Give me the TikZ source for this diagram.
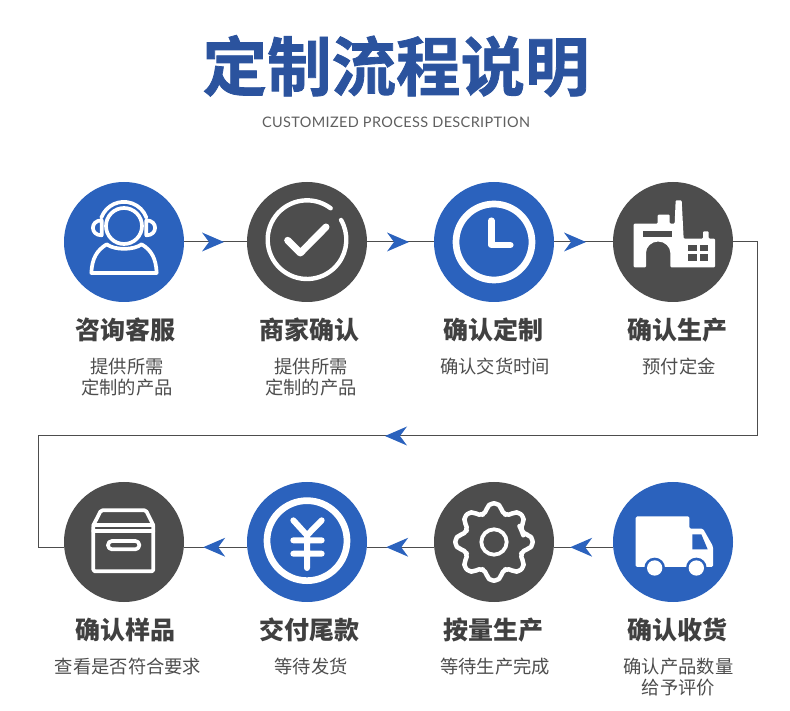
\documentclass[tikz,border=0pt]{standalone}
\usepackage{fontspec}
\setmainfont{Noto Sans CJK SC}
\newfontfamily\titlefont[FakeBold=1.2]{Noto Sans CJK SC Bold}
\newfontfamily\latinfont[LetterSpace=2.5]{Lato}
\usepackage{xcolor}
\usetikzlibrary{positioning, arrows.meta, decorations.markings, backgrounds}
\definecolor{accBlue}{HTML}{2B62BD}
\definecolor{accDark}{HTML}{4D4D4D}
\definecolor{titleBlue}{HTML}{2B539E}
\definecolor{headText}{HTML}{404040}
\definecolor{bodyText}{HTML}{4D4D4D}
\definecolor{mutedText}{HTML}{5F5F5F}

\begin{document}
\begin{tikzpicture}[
      x=1pt, y=1pt,
      blueball/.style={circle, fill=accBlue, minimum size=120pt, inner sep=0pt, outer sep=0pt},
      darkball/.style={circle, fill=accDark, minimum size=120pt, inner sep=0pt, outer sep=0pt},
      steplabel/.style={font=\fontsize{25}{28}\selectfont\bfseries, text=headText, inner sep=0pt, outer sep=0pt},
      stepnote/.style={font=\fontsize{18.3}{21}\selectfont, text=bodyText, align=center, inner sep=0pt, outer sep=0pt},
      conn/.style={draw=accDark, line width=1pt},
      arrat/.style={postaction={decorate}, decoration={markings, mark=at position #1 with
          {\arrow{Stealth[length=22pt, width=19pt, inset=7pt, accBlue, fill=accBlue, line width=0pt]}}}},
      iconat/.style={shift={(#1)}, x=.3333pt, y=-.3333pt},
      iconline/.style={draw=white, line width=3.7pt, line cap=round, line join=round},
    ]
      \useasboundingbox (0,0) rectangle (790,710);

      % heading
      \node[font=\titlefont\fontsize{64.5}{70}\selectfont, text=titleBlue, inner sep=0pt, outer sep=0pt] (title) at (396,644) {定制流程说明};
      \node[font=\latinfont\fontsize{14.5}{16}\selectfont, text=mutedText, inner sep=0pt, below=20pt of title] (subtitle) {CUSTOMIZED PROCESS DESCRIPTION};

      % row 1
      \node[blueball] (service) at (124,468) {};
      \node[darkball, right=63pt of service] (merchant) {};
      \node[blueball, right=67pt of merchant] (clock) {};
      \node[darkball, right=59pt of clock] (factory) {};

      % row 2
      \node[darkball, below=180pt of service] (box) {};
      \node[blueball, right=63pt of box] (yen) {};
      \node[darkball, right=67pt of yen] (gear) {};
      \node[blueball, right=59pt of gear] (truck) {};

      % labels, row 1
      \node[steplabel, below=16pt of service, xshift=1pt] (l1) {咨询客服};
      \node[stepnote, below=16pt of l1, xshift=2pt] (n1) {提供所需\\定制的产品};
      \node[steplabel, below=16pt of merchant, xshift=2pt] (l2) {商家确认};
      \node[stepnote, below=16pt of l2, xshift=2pt] (n2) {提供所需\\定制的产品};
      \node[steplabel, below=16pt of clock, xshift=-.5pt] (l3) {确认定制};
      \node[stepnote, below=16pt of l3, xshift=1.5pt] (n3) {确认交货时间};
      \node[steplabel, below=16pt of factory, xshift=4pt] (l4) {确认生产};
      \node[stepnote, below=16pt of l4, xshift=2pt] (n4) {预付定金};

      % labels, row 2
      \node[steplabel, below=16pt of box, xshift=1pt] (l5) {确认样品};
      \node[stepnote, below=16pt of l5, xshift=3pt] (n5) {查看是否符合要求};
      \node[steplabel, below=16pt of yen, xshift=2pt] (l6) {交付尾款};
      \node[stepnote, below=16pt of l6, xshift=2pt] (n6) {等待发货};
      \node[steplabel, below=16pt of gear, xshift=-1pt] (l7) {按量生产};
      \node[stepnote, below=16pt of l7, xshift=2pt] (n7) {等待生产完成};
      \node[steplabel, below=16pt of truck, xshift=4pt] (l8) {确认收货};
      \node[stepnote, below=16pt of l8, xshift=1.5pt] (n8) {确认产品数量\\给予评价};

      % turning points of the long connector
      \coordinate[right=24pt of factory.east] (turnA);
      \coordinate[below=194pt of turnA] (turnB);
      \coordinate[left=719pt of turnB] (turnC);
      \coordinate (turnD) at (turnC |- box.185);

      % connectors
      \draw[conn, arrat=40pt] (service) -- (merchant);
      \draw[conn, arrat=42pt] (merchant) -- (clock);
      \draw[conn, arrat=32pt] (clock) -- (factory);
      \draw[conn, arrat=590pt] (factory.east) -- (turnA) -- (turnB) -- (turnC) -- (turnD) -- (box.185);
      \draw[conn, arrat=43pt] (truck.185) -- (gear.355);
      \draw[conn, arrat=48pt] (gear.185) -- (yen.355);
      \draw[conn, arrat=44pt] (yen.185) -- (box.355);

      % headset
      \begin{scope}[iconat=service, shift={(-222,-215)}, iconline]
        \draw (222,167) circle[radius=54];
        \draw (154,142) arc[start angle=200, end angle=340, radius=72];
        \draw (155,150) .. controls (120,150) and (120,195) .. (155,195) -- cycle;
        \draw (289,150) .. controls (324,150) and (324,195) .. (289,195) -- cycle;
        \draw (124,308) -- (320,308) .. controls (318,265) and (305,240) .. (275,222)
              .. controls (250,240) and (195,240) .. (170,222)
              .. controls (140,240) and (126,265) .. (124,308) -- cycle;
      \end{scope}

      % check in a ring
      \begin{scope}[iconat=merchant, shift={(-770,-215)}, iconline]
        \draw[line width=4.4pt] (770,208) ++(-53:118) arc[start angle=-53, end angle=-390, radius=118];
        \draw[line width=7pt] (712,210) -- (750,248) -- (827,170);
      \end{scope}

      % clock
      \begin{scope}[iconat=clock, shift={(-220,-215)}, iconline]
        \draw[line width=6.7pt] (220,215) circle[radius=114];
        \draw[line width=6.5pt] (212,151) -- (212,224) -- (269,224);
      \end{scope}

      % factory
      \begin{scope}[iconat=factory, shift={(-758,-215)}]
        \fill[white, rounded corners=1pt] (640,291) -- (640,160) -- (712,160) -- (712,133) -- (748,133) -- (748,160)
              -- (763,160) -- (766,90) -- (784,90) -- (790,205) -- (848,205) -- (848,183) -- (865,183) -- (865,205)
              -- (884,205) -- (884,291) -- (750,291) -- (750,250) arc[start angle=0, end angle=-180, radius=36.5]
              -- (677,291) -- cycle;
        \fill[accDark] (668,183) rectangle (755,200);
        \foreach \wx in {803,838}
          \foreach \wy in {223,252}
            \fill[accDark] (\wx,\wy) rectangle ++(26,19);
      \end{scope}

      % storage box
      \begin{scope}[iconat=box, shift={(-282,-215)}, iconline]
        \draw[rounded corners=1.5pt] (190,165) -- (213,120) -- (348,120) -- (370,165) -- (370,303) -- (190,303) -- cycle;
        \draw (190,165) -- (370,165);
        \draw (190,183) -- (370,183);
        \draw[rounded corners=4pt] (234,212) rectangle (328,237);
      \end{scope}

      % yen coin
      \begin{scope}[iconat=yen, shift={(-831,-215)}, iconline]
        \draw[line width=6.7pt] (831,211) circle[radius=120];
        \draw[line width=6pt] (790,150) -- (831,195) -- (875,150) (831,195) -- (831,293)
              (790,210) -- (875,210) (790,250) -- (875,250);
      \end{scope}

      % gear
      \begin{scope}[iconat=gear, iconline]
        \draw[line width=4.5pt, rounded corners=5pt] (-22.5:90)
              \foreach \a in {0,45,...,315} { -- (\a-15:90) -- (\a-9:117) -- (\a+9:117) -- (\a+15:90) } -- cycle;
        \draw[line width=3.8pt] (0,0) circle[radius=38];
      \end{scope}

      % truck
      \begin{scope}[iconat=truck, shift={(-758,-215)}]
        \fill[white, rounded corners=1.5pt] (646,290) -- (646,138) -- (807,138) -- (807,175) -- (848,175) -- (878,228)
              -- (878,290) -- cycle;
        \fill[accBlue] (816,192) -- (843,192) -- (862,237) -- (816,237) -- cycle;
        \foreach \wx in {703,828} {
          \fill[accBlue] (\wx,293) circle[radius=31];
          \fill[white] (\wx,293) circle[radius=23];
        }
      \end{scope}

    \end{tikzpicture}
\end{document}
